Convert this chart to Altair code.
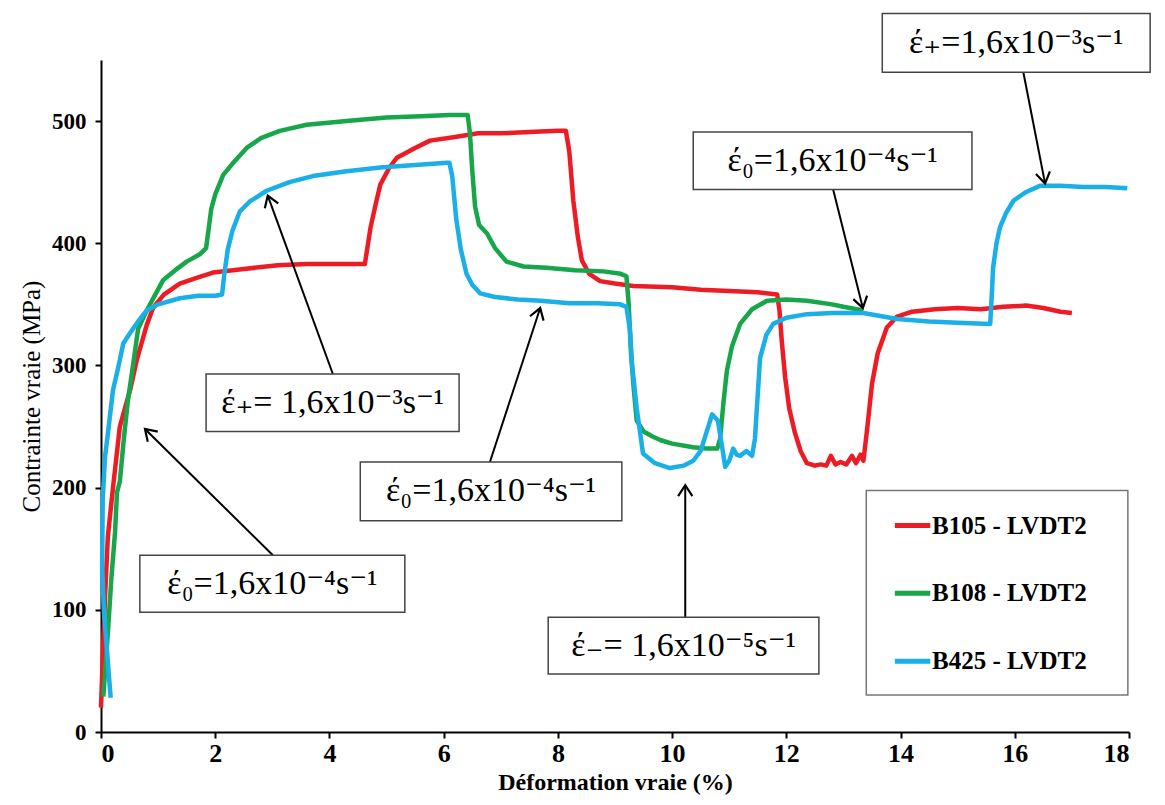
import math
import altair as alt
import pandas as pd

# ---------------- data ----------------
names = ["B105 - LVDT2", "B108 - LVDT2", "B425 - LVDT2"]
colors = ["#ED1C24", "#17A64A", "#1AAFE6"]

red_x = [0.0, 0.03, 0.07, 0.12, 0.21, 0.33, 0.42, 0.51, 0.63, 0.8, 0.91, 1.1, 1.38, 1.7, 1.96, 2.5, 3.1, 3.6, 4.1, 4.62,
         4.66, 4.72, 4.8, 4.89, 5.05, 5.18, 5.5, 5.76, 6.2, 6.6, 7.0, 7.5, 8.0, 8.14, 8.2, 8.27, 8.35, 8.42, 8.55, 8.74,
         9.0, 9.32, 10.0, 10.5, 11.0, 11.5, 11.84, 11.88, 11.92, 11.98, 12.05, 12.15, 12.25, 12.36, 12.5, 12.6, 12.7,
         12.78, 12.86, 12.95, 13.05, 13.15, 13.22, 13.3, 13.35, 13.42, 13.5, 13.6, 13.76, 13.94, 14.2, 14.6, 15.0, 15.4,
         15.8, 16.2, 16.5, 16.8, 17.0]
red_y = [20, 60, 110, 160, 200, 250, 265, 280, 305, 333, 347, 358, 367, 372, 376, 379, 382, 383, 383, 383,
         395, 413, 430, 448, 462, 470, 478, 484, 487, 490, 490, 491, 492, 492, 475, 435, 405, 386, 375, 369,
         367, 365, 364, 362, 361, 360, 358, 345, 320, 290, 265, 245, 230, 220, 218, 219, 218,
         226, 219, 221, 219, 226, 220, 227, 222, 250, 285, 310, 331, 340, 344, 346, 347, 346,
         348, 349, 347, 344, 343]

green_x = [0.04, 0.08, 0.12, 0.18, 0.245, 0.28, 0.33, 0.4, 0.47, 0.56, 0.65, 0.8, 0.95, 1.09, 1.3, 1.5, 1.73, 1.84,
           1.88, 1.93, 2.0, 2.14, 2.3, 2.55, 2.8, 3.13, 3.6, 4.3, 5.0, 5.6, 6.1, 6.42, 6.46, 6.5, 6.55, 6.62, 6.76,
           6.9, 7.1, 7.4, 7.8, 8.3, 8.8, 9.1, 9.2, 9.24, 9.28, 9.33, 9.38, 9.5, 9.65, 9.79, 10.0, 10.37, 10.6, 10.79,
           10.84, 10.9, 10.96, 11.05, 11.19, 11.4, 11.66, 12.0, 12.36, 12.8, 13.0, 13.35]
green_y = [29, 55, 81, 125, 163, 196, 205, 240, 271, 300, 330, 345, 358, 370, 378, 385, 391, 396,
           410, 428, 440, 456, 465, 478, 486, 492, 497, 500, 503, 504, 505, 505, 490, 460, 430, 415, 408,
           396, 385, 381, 380, 378, 377, 375, 373, 350, 310, 280, 255, 246, 242, 239, 236, 233, 232, 232,
           240, 270, 296, 316, 334, 346, 353, 354, 353, 350, 348, 345]

blue_x = [0.17, 0.14, 0.1, 0.05, 0.02, 0.03, 0.07, 0.12, 0.21, 0.3, 0.39, 0.5, 0.65, 0.8, 1.0, 1.38, 1.7, 2.0, 2.12,
          2.16, 2.22, 2.3, 2.43, 2.6, 2.9, 3.3, 3.71, 4.3, 4.89, 5.5, 6.06, 6.1, 6.15, 6.22, 6.3, 6.4, 6.5, 6.64,
          6.9, 7.3, 7.7, 8.2, 8.7, 9.09, 9.2, 9.26, 9.3, 9.38, 9.49, 9.7, 9.96, 10.2, 10.37, 10.5, 10.6, 10.7,
          10.8, 10.87, 10.93, 11.0, 11.07, 11.13, 11.19, 11.3, 11.4, 11.45, 11.54, 11.65, 11.77, 12.0, 12.36,
          12.8, 13.35, 13.94, 14.5, 15.0, 15.57, 15.6, 15.62, 15.68, 15.74, 15.85, 15.98, 16.2, 16.44, 16.8,
          17.2, 17.6, 17.97]
blue_y = [28, 45, 70, 100, 135, 190, 225, 244, 280, 298, 318, 326, 336, 345, 350, 355, 357, 357, 358,
          375, 395, 410, 426, 434, 443, 450, 455, 459, 462, 464, 466, 466, 455, 420, 395, 375, 366, 359,
          356, 354, 353, 351, 351, 350, 348, 330, 300, 265, 228, 220, 216, 218, 222, 230, 245, 260,
          255, 235, 217, 222, 232, 227, 226, 230, 226, 240, 306, 325, 334, 339, 342,
          343, 343, 338, 336, 335, 334, 360, 380, 400, 413, 425, 435, 442, 447, 447,
          446, 446, 445]

x_ticks = [0, 2, 4, 6, 8, 10, 12, 14, 16, 18]
y_ticks = [0, 100, 200, 300, 400, 500]

ann_text = ["έ₀=1,6x10⁻⁴s⁻¹", "έ₊= 1,6x10⁻³s⁻¹", "έ₀=1,6x10⁻⁴s⁻¹",
            "έ₋= 1,6x10⁻⁵s⁻¹", "έ₀=1,6x10⁻⁴s⁻¹", "έ₊=1,6x10⁻³s⁻¹"]
# arrow tips (data units) — what each label points at
tip_x = [0.77, 2.92, 7.69, 10.23, 13.34, 16.53]
tip_y = [248, 439, 347, 202, 347, 449]

# ---------------- layout (data units of the axes) ----------------
W, H = 1028, 672
XMAX, YMAX = 18, 550
box_x0 = [0.68, 1.84, 4.54, 7.83, 10.37, 13.68]
box_x1 = [5.32, 6.27, 9.12, 12.57, 15.25, 18.37]
box_y0 = [98, 246, 173, 47.4, 444, 540]
box_y1 = [144.6, 293, 221, 94, 491, 588]
start_x = [3.01, 4.06, 6.81, 10.23, 12.82, 16.15]
start_y = [144.6, 293, 221, 94, 444, 540]

sx, sy = W / XMAX, H / YMAX
angles = []
for x0, y0, x1, y1 in zip(start_x, start_y, tip_x, tip_y):
    dxp = (x1 - x0) * sx
    dyp = -(y1 - y0) * sy
    angles.append(math.degrees(math.atan2(dxp, -dyp)) % 360)

rows = []
for nm, xs, ys in [(names[0], red_x, red_y), (names[1], green_x, green_y), (names[2], blue_x, blue_y)]:
    assert len(xs) == len(ys), nm
    for i, (a, b) in enumerate(zip(xs, ys)):
        rows.append({"series": nm, "x": a, "y": b, "i": i})
df = pd.DataFrame(rows)

ann = pd.DataFrame({
    "text": ann_text,
    "bx0": box_x0, "bx1": box_x1, "by0": box_y0, "by1": box_y1,
    "cx": [(a + b) / 2 for a, b in zip(box_x0, box_x1)],
    "cy": [(a + b) / 2 for a, b in zip(box_y0, box_y1)],
    "sx": start_x, "sy": start_y, "tx": tip_x, "ty": tip_y, "ang": angles,
})

leg = pd.DataFrame({
    "series": names,
    "lx0": [13.9] * 3, "lx1": [14.52] * 3, "tx": [14.55] * 3,
    "ly": [169, 113.6, 58],
})
leg_box = pd.DataFrame({"x0": [13.40], "x1": [17.98], "y0": [30.2], "y1": [197.7]})

# ---------------- encodings ----------------
FONT = "Times New Roman, Liberation Serif, Tinos, DejaVu Serif, serif"
xs_ = alt.Scale(domain=[0, XMAX], nice=False, zero=False)
ys_ = alt.Scale(domain=[0, YMAX], nice=False, zero=False)
x_axis = alt.Axis(values=x_ticks, title="Déformation vraie (%)", grid=False,
                  labelFont=FONT, labelFontWeight="bold", labelFontSize=26, labelColor="black",
                  titleFont=FONT, titleFontWeight="bold", titleFontSize=24, titleColor="black",
                  tickSize=6, tickWidth=2, tickColor="black", domainWidth=2, domainColor="black",
                  labelPadding=2, titlePadding=4, format="d")
y_axis = alt.Axis(values=y_ticks, title="Contrainte vraie (MPa)", grid=False,
                  labelFont=FONT, labelFontWeight="bold", labelFontSize=23, labelColor="black",
                  titleFont=FONT, titleFontWeight="normal", titleFontSize=25, titleColor="black",
                  tickSize=6, tickWidth=2, tickColor="black", domainWidth=2, domainColor="black",
                  labelPadding=9, titlePadding=7, format="d")


def X(f):
    return alt.X(f, type="quantitative", scale=xs_, axis=x_axis)


def Y(f):
    return alt.Y(f, type="quantitative", scale=ys_, axis=y_axis)


color = alt.Color("series:N", scale=alt.Scale(domain=names, range=colors), legend=None)

lines = alt.Chart(df).mark_line(strokeWidth=4.5, strokeJoin="round").encode(
    x=X("x"), y=Y("y"), color=color, order="i:Q")

boxes = alt.Chart(ann).mark_rect(fill="white", stroke="#444", strokeWidth=1.5).encode(
    x=X("bx0"), x2="bx1", y=Y("by0"), y2="by1")

texts = alt.Chart(ann).mark_text(font=FONT, fontSize=34, color="black", baseline="middle",
                                 align="center").encode(x=X("cx"), y=Y("cy"), text="text:N")

shafts = alt.Chart(ann).mark_rule(strokeWidth=2, color="black").encode(
    x=X("sx"), y=Y("sy"), x2="tx", y2="ty")

heads = alt.Chart(ann).mark_point(shape="M-0.65,1L0,0L0.65,1", filled=False, stroke="black",
                                  strokeWidth=2.2, size=480, opacity=1).encode(
    x=X("tx"), y=Y("ty"), angle=alt.Angle("ang:Q", scale=None))

legbox = alt.Chart(leg_box).mark_rect(fill="white", stroke="#777", strokeWidth=1.5).encode(
    x=X("x0"), x2="x1", y=Y("y0"), y2="y1")

leglines = alt.Chart(leg).mark_rule(strokeWidth=5).encode(
    x=X("lx0"), x2="lx1", y=Y("ly"), color=color)

legtext = alt.Chart(leg).mark_text(font=FONT, fontWeight="bold", fontSize=25, color="black",
                                   align="left", baseline="middle").encode(
    x=X("tx"), y=Y("ly"), text="series:N")

chart = alt.layer(lines, legbox, leglines, legtext, shafts, boxes, texts, heads).properties(
    width=W, height=H,
    padding={"left": 93, "top": 52, "right": 25, "bottom": 70},
    autosize=alt.AutoSizeParams(type="none"),
    background="white",
).configure_view(stroke=None)

chart.save("out.html", embed_options={"renderer": "svg", "actions": False})
